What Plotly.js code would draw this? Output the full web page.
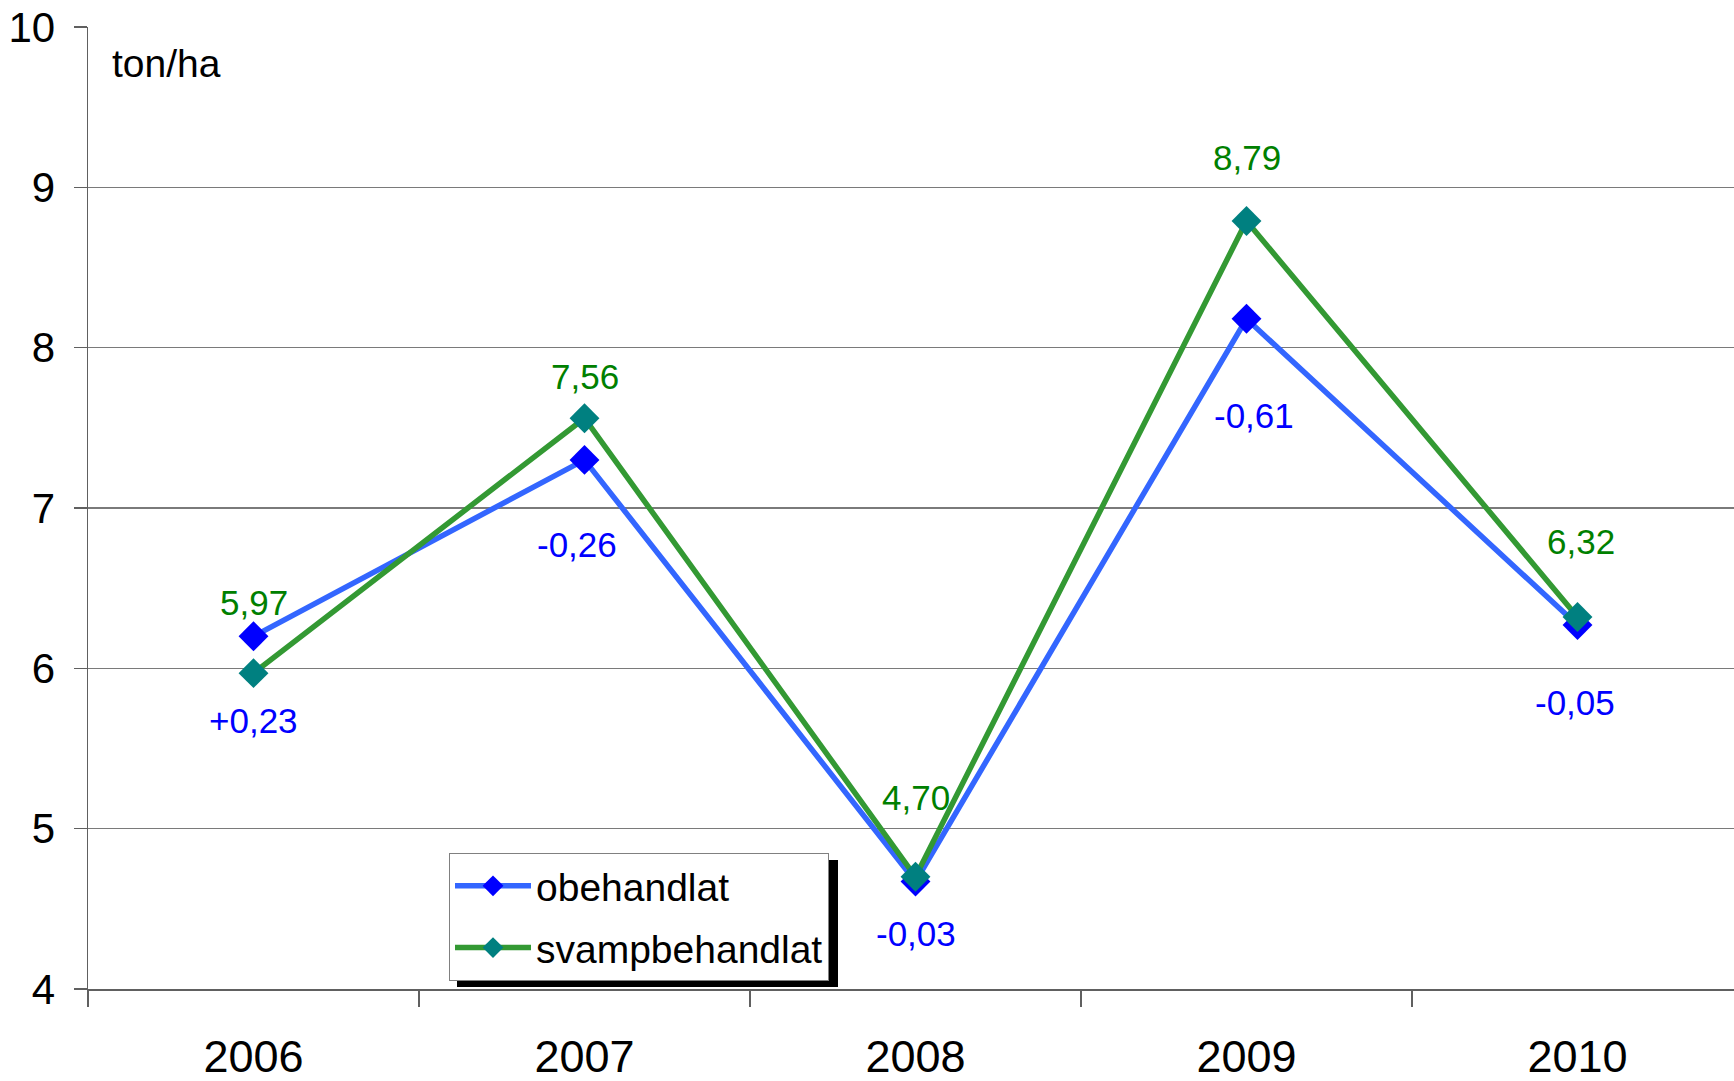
<!DOCTYPE html>
<html>
<head>
<meta charset="utf-8">
<script src="https://cdn.plot.ly/plotly-3.0.1.min.js"></script>
<style>html,body{margin:0;padding:0;background:#fff;}#chart{width:1734px;height:1081px;}</style>
</head>
<body>
<div id="chart"></div>
<script>
const years = ['2006', '2007', '2008', '2009', '2010'];
const obehandlat = [6.20, 7.30, 4.67, 8.18, 6.27];
const svampbehandlat = [5.97, 7.56, 4.70, 8.79, 6.32];
const svampLabels = ['5,97', '7,56', '4,70', '8,79', '6,32'];
const diffLabels = ['+0,23', '-0,26', '-0,03', '-0,61', '-0,05'];
const yTicks = [4, 5, 6, 7, 8, 9, 10];
const unitLabel = 'ton/ha';

const W = 1734, H = 1081;
const mL = 88, mT = 27, mB = 92, mR = 0;
const pw = W - mL - mR, ph = H - mT - mB;
const px = v => (v - mL) / pw;          // pixel x from left -> paper
const py = v => (H - mB - v) / ph;      // pixel y from top  -> paper

const svampShift = [71, 42, 79, 64, 76];
const svampXShift = [0, 0, 0, 0, 3];
const diffShift = [-84, -85, -52, -97, -77];
const diffXShift = [0, -8, 0, 7, -3];

const FONT = 'Liberation Sans, Arial, sans-serif';

const traces = [
  {
    x: years, y: obehandlat, name: 'obehandlat', type: 'scatter', mode: 'lines+markers',
    legendgroup: 'a',
    line: {color: '#3366FF', width: 5.5},
    marker: {symbol: 'diamond', size: 23, color: '#0000FF'}
  },
  {
    x: years, y: svampbehandlat, name: 'svampbehandlat', type: 'scatter', mode: 'lines+markers',
    legendgroup: 'b',
    line: {color: '#339933', width: 5.5},
    marker: {symbol: 'diamond', size: 23, color: '#008080'}
  }
];

const annotations = [];
years.forEach((yr, i) => {
  annotations.push({x: i, y: svampbehandlat[i], xref: 'x', yref: 'y', text: svampLabels[i],
    showarrow: false, yshift: svampShift[i], xshift: svampXShift[i],
    font: {family: FONT, size: 35, color: '#008000'}});
  annotations.push({x: i, y: obehandlat[i], xref: 'x', yref: 'y', text: diffLabels[i],
    showarrow: false, yshift: diffShift[i], xshift: diffXShift[i],
    font: {family: FONT, size: 35, color: '#0000FF'}});
});
annotations.push({x: px(110), y: py(63), xref: 'paper', yref: 'paper', xanchor: 'left', yanchor: 'middle',
  text: unitLabel, showarrow: false, font: {family: FONT, size: 39, color: '#000'}});

const layout = {
  width: W, height: H,
  margin: {l: mL, r: mR, t: mT, b: mB, pad: 0},
  paper_bgcolor: '#fff', plot_bgcolor: '#fff',
  showlegend: true,
  legend: {
    x: px(449), y: py(853), xanchor: 'left', yanchor: 'top',
    bgcolor: '#fff', bordercolor: '#808080', borderwidth: 1,
    font: {family: FONT, size: 39, color: '#000'},
    itemwidth: 76, tracegroupgap: 8, traceorder: 'grouped'
  },
  xaxis: {
    type: 'category', range: [-0.5, 4.5 - 9 / 331], fixedrange: true,
    showgrid: false, zeroline: false,
    showline: true, linecolor: '#606060', linewidth: 1.5,
    ticks: 'outside', tickson: 'boundaries', ticklen: 16, tickcolor: '#606060', tickwidth: 1.5,
    tickfont: {family: FONT, size: 45, color: '#000'},
    ticklabelstandoff: 27
  },
  yaxis: {
    range: [4, 10], tickvals: yTicks, fixedrange: true,
    showgrid: true, gridcolor: '#7a7a7a', gridwidth: 1.3,
    zeroline: false,
    showline: true, linecolor: '#606060', linewidth: 1.5,
    ticks: 'outside', ticklen: 13, tickcolor: '#606060', tickwidth: 1.5,
    tickfont: {family: FONT, size: 42, color: '#000'},
    ticklabelstandoff: 10
  },
  shapes: [
    {type: 'rect', xref: 'paper', yref: 'paper', x0: px(457), x1: px(838), y0: py(987), y1: py(860),
     fillcolor: '#000', line: {width: 0}, layer: 'above'}
  ],
  annotations: annotations
};

Plotly.newPlot('chart', traces, layout, {displayModeBar: false, staticPlot: true});
</script>
</body>
</html>
